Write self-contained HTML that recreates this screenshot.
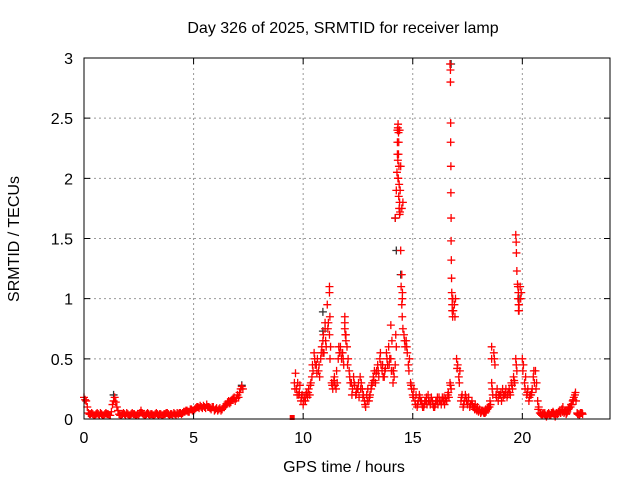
<!DOCTYPE html>
<html><head><meta charset="utf-8"><style>
body{margin:0;background:#fff}
text{font-family:"Liberation Sans",sans-serif;font-size:16px;fill:#000}
</style></head><body>
<svg id="chart" width="640" height="480" xmlns="http://www.w3.org/2000/svg">
<rect width="640" height="480" fill="#fff"/>
<g id="grid"></g>
<g id="gray"></g>
<g id="red"></g>
<rect x="84" y="58" width="526" height="361" fill="none" stroke="#000" stroke-width="1"/>
<g id="ticks"></g>
<text x="343" y="33" text-anchor="middle">Day 326 of 2025, SRMTID for receiver lamp</text>
<text x="344" y="472" text-anchor="middle">GPS time / hours</text>
<text transform="translate(19,239) rotate(-90)" text-anchor="middle">SRMTID / TECUs</text>
</svg>
<script>
const xTicks=[0,5,10,15,20];
const yTicks=[0,0.5,1,1.5,2,2.5,3];
const yTickLabels=["0","0.5","1","1.5","2","2.5","3"];
const seg1Start=0.0;
const seg1=[0.18,0.15,0.05,0.04,0.04,0.03,0.05,0.03,0.04,0.03,0.05,0.04,0.03,0.12,0.18,0.1,0.04,0.03,0.05,0.03,0.04,0.03,0.05,0.04,0.03,0.03,0.07,0.04,0.03,0.05,0.03,0.04,0.03,0.05,0.03,0.04,0.03,0.04,0.05,0.03,0.04,0.05,0.03,0.04,0.05,0.05,0.06,0.07,0.06,0.08,0.07,0.09,0.1,0.11,0.09,0.1,0.12,0.1,0.08,0.1,0.08,0.07,0.09,0.08,0.1,0.12,0.15,0.14,0.17,0.15,0.2,0.22,0.27];
const seg1b=[0.16,0.1,0.04,0.05,0.03,0.04,0.04,0.05,0.03,0.04,0.04,0.03,0.06,0.15,0.14,0.07,0.03,0.04,0.04,0.05,0.03,0.04,0.04,0.03,0.04,0.05,0.05,0.03,0.04,0.04,0.04,0.03,0.04,0.04,0.04,0.03,0.04,0.05,0.04,0.04,0.03,0.04,0.05,0.05,0.04,0.06,0.07,0.06,0.08,0.07,0.08,0.1,0.09,0.1,0.11,0.09,0.1,0.09,0.1,0.07,0.09,0.08,0.07,0.1,0.11,0.14,0.13,0.16,0.18,0.17,0.18,0.25,0.25];
const seg2Start=9.6;
const seg2=[0.3,0.25,0.2,0.15,0.12,0.15,0.18,0.2,0.35,0.55,0.45,0.4,0.5,0.65,0.75,0.95,0.7,0.3,0.32,0.25,0.5,0.6,0.55,0.75,0.6,0.4,0.3,0.35,0.2,0.25,0.35,0.25,0.15,0.2,0.15,0.25,0.35,0.3,0.45,0.5,0.4,0.35,0.55,0.6,0.5,0.3,0.45,2.4,2.4,1.75,0.7,0.65,0.45,0.3,0.2,0.15,0.1,0.2,0.15,0.1,0.15,0.2,0.12,0.15,0.1,0.15,0.18,0.12,0.15,0.17,0.2,0.3,0.95,0.95,0.5,0.35,0.15,0.1,0.2,0.12,0.1,0.15,0.1,0.08,0.06,0.05,0.07,0.05,0.08,0.1,0.3,0.55,0.2,0.15,0.2,0.25,0.2,0.18,0.25,0.3,0.35,0.5,1.0,1.1,0.5,0.3,0.2,0.15,0.2,0.35,0.4,0.15,0.05,0.03,0.04,0.02,0.05,0.03,0.06,0.02,0.04,0.06,0.08,0.05,0.04,0.08,0.1,0.15,0.2,0.05,0.03,0.05];
const seg2b=[0.38,0.3,0.28,0.2,0.18,0.22,0.25,0.3,0.4,0.45,0.5,0.35,0.6,0.55,0.6,0.8,0.6,0.25,0.28,0.3,0.55,0.5,0.45,0.65,0.5,0.3,0.25,0.28,0.25,0.18,0.3,0.2,0.1,0.25,0.2,0.3,0.4,0.4,0.35,0.45,0.35,0.42,0.45,0.5,0.4,0.35,0.6,2.2,2.1,1.8,0.6,0.55,0.5,0.25,0.25,0.2,0.15,0.15,0.1,0.15,0.12,0.15,0.18,0.1,0.15,0.12,0.15,0.18,0.12,0.15,0.18,0.25,0.9,1.0,0.45,0.4,0.2,0.15,0.15,0.18,0.12,0.1,0.12,0.1,0.08,0.07,0.05,0.06,0.1,0.12,0.2,0.45,0.25,0.2,0.15,0.2,0.25,0.22,0.2,0.25,0.3,0.4,0.95,1.05,0.45,0.35,0.25,0.2,0.25,0.3,0.3,0.1,0.04,0.05,0.03,0.04,0.03,0.05,0.04,0.05,0.06,0.05,0.1,0.07,0.06,0.1,0.12,0.18,0.15,0.04,0.05,0.04];
const seg2c=[0.25,0.2,0.22,0.18,0.15,0.2,0.22,0.28,0.45,0.5,0.38,0.45,0.55,0.7,0.65,0.75,0.5,0.28,0.35,0.4,0.6,0.55,0.5,0.7,0.45,0.35,0.2,0.3,0.22,0.3,0.25,0.18,0.12,0.15,0.18,0.28,0.32,0.38,0.4,0.55,0.45,0.4,0.5,0.45,0.4,0.4,0.7,2.0,1.9,1.0,0.65,0.6,0.4,0.28,0.18,0.12,0.12,0.18,0.12,0.12,0.18,0.15,0.15,0.12,0.12,0.18,0.15,0.15,0.18,0.15,0.22,0.28,1.0,0.85,0.42,0.3,0.18,0.12,0.18,0.15,0.12,0.12,0.08,0.07,0.07,0.06,0.06,0.08,0.09,0.15,0.25,0.5,0.18,0.2,0.22,0.18,0.22,0.2,0.22,0.28,0.32,0.45,0.9,1.0,0.4,0.25,0.22,0.18,0.22,0.4,0.25,0.08,0.05,0.04,0.05,0.03,0.04,0.05,0.05,0.04,0.05,0.07,0.06,0.06,0.05,0.09,0.12,0.16,0.22,0.04,0.04,0.05];
const spikeHours=[14.2,14.25,14.28,14.3,14.32,14.33,14.35,14.36,14.37,14.38,14.4,14.42,14.45,14.47,14.5,14.5,14.52,14.53,14.55,14.3,14.32,14.34,14.36,14.38,14.4,16.7,16.72,16.72,16.73,16.73,16.74,16.74,16.75,16.75,16.76,16.77,16.78,16.8,16.8,16.82,19.7,19.72,19.73,19.75,19.78,19.8,19.82,19.83,19.85,11.2,11.2,11.22,11.0,10.9,11.9,11.9,11.95,14.0,14.05,18.6,18.6];
const spikeValues=[1.67,1.9,2.05,2.2,2.42,2.45,2.38,2.3,2.1,1.95,1.8,1.72,1.4,1.1,1.2,0.95,0.85,1.05,0.75,2.3,2.15,2.0,1.85,1.75,1.7,2.95,2.9,2.8,2.46,2.3,2.1,1.88,1.67,1.48,1.32,1.17,1.05,1.0,0.9,0.85,1.53,1.47,1.38,1.23,1.12,1.1,1.05,0.95,0.9,1.1,1.05,0.85,0.8,0.55,0.85,0.8,0.7,0.78,0.65,0.6,0.5];
const grayHours=[10.9,10.9,14.2,14.25,14.45,19.85,7.2,1.35,16.75];
const grayValues=[0.89,0.73,1.67,1.4,1.2,1.0,0.28,0.2,2.95];
const squareHours=[9.5];
const squareValues=[0];

const NS="http://www.w3.org/2000/svg";
const X=h=>84+h*(526/24);
const Y=v=>419-v*(361/3);
function mk(t,a){const e=document.createElementNS(NS,t);for(const k in a)e.setAttribute(k,a[k]);return e;}
const grid=document.getElementById('grid'),ticks=document.getElementById('ticks');
xTicks.forEach(t=>{const x=X(t);
 if(t>0){const l=mk('line',{x1:x,x2:x,y1:58,y2:419,stroke:'#999','stroke-dasharray':'2,3'});grid.appendChild(l);}
 const a=mk('path',{d:`M${x},419v-6M${x},58v6`,stroke:'#000'});ticks.appendChild(a);
 const tx=mk('text',{x:x,y:443,'text-anchor':'middle'});tx.textContent=t;ticks.appendChild(tx);});
yTicks.forEach((t,i)=>{const y=Y(t);
 if(t>0&&t<3){const l=mk('line',{x1:84,x2:610,y1:y,y2:y,stroke:'#999','stroke-dasharray':'2,3'});grid.appendChild(l);}
 const a=mk('path',{d:`M84,${y}h6M610,${y}h-6`,stroke:'#000'});ticks.appendChild(a);
 const tx=mk('text',{x:73,y:y+6,'text-anchor':'end'});tx.textContent=yTickLabels[i];ticks.appendChild(tx);});
function plus(g,h,v,c){const x=X(h),y=Y(v);const p=mk('path',{d:`M${x-4},${y}h8M${x},${y-4}v8`,stroke:c,'stroke-width':1.3});g.appendChild(p);}
const gg=document.getElementById('gray'),rg=document.getElementById('red');
grayHours.forEach((h,i)=>plus(gg,h,grayValues[i],'#333'));
seg1.forEach((v,i)=>plus(rg,seg1Start+i*0.1,v,'#f00'));
seg1b.forEach((v,i)=>plus(rg,seg1Start+i*0.1+0.05,v,'#f00'));
seg2.forEach((v,i)=>plus(rg,seg2Start+i*0.1,v,'#f00'));
seg2b.forEach((v,i)=>plus(rg,seg2Start+i*0.1+0.05,v,'#f00'));
seg2c.forEach((v,i)=>plus(rg,seg2Start+i*0.1+0.025,v,'#f00'));
spikeHours.forEach((h,i)=>plus(rg,h,spikeValues[i],'#f00'));
squareHours.forEach((h,i)=>{const s=mk('rect',{x:X(h)-2.5,y:Y(squareValues[i])-4,width:5,height:5,fill:'#f00'});rg.appendChild(s);});
</script>
</body></html>
